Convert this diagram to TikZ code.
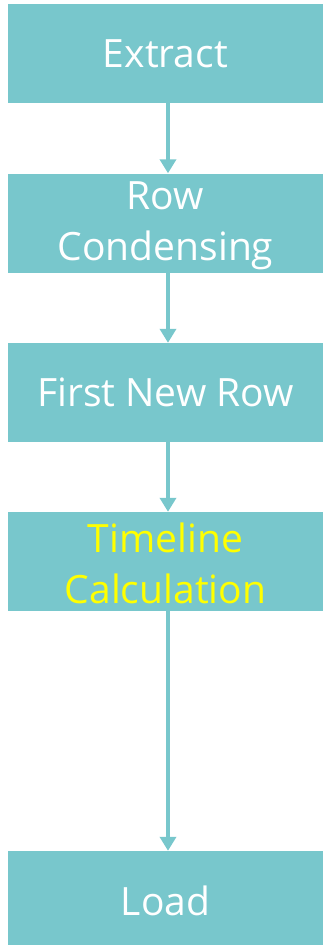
\documentclass[tikz,border=0pt]{standalone}
\usepackage{fontspec}
\setmainfont{Open Sans}
\usetikzlibrary{arrows.meta,calc}
\definecolor{teal}{HTML}{78C7CC}
\definecolor{hilite}{HTML}{FFFF00}
\tikzset{
  stepbox/.style={fill=teal, draw=none, minimum width=315pt, minimum height=99pt,
    inner sep=0pt, align=center, text=white,
    font=\fontsize{39}{51}\selectfont},
  flow/.style={draw=teal, line width=4.2pt,
    -{Triangle[width=16pt,length=14pt]}}
}
\begin{document}
\begin{tikzpicture}[x=1pt,y=1pt]
  \useasboundingbox (0,0) rectangle (323,-945);
  \begin{scope}
    \clip (0,0) rectangle (323,-945);
    \node[stepbox] (extract) at (165.5,-53.5) {Extract};
    \node[stepbox] (condense) at (165.5,-223) {\rule{0pt}{34pt}Row\\Condensing};
    \node[stepbox] (firstrow) at (165.5,-392.5) {First New Row};
    \node[stepbox, text=hilite] (timeline) at (165.5,-561.5) {\rule{0pt}{34pt}Timeline\\Calculation};
    \node[stepbox] (load) at (165.5,-900.5) {Load};
    \coordinate (axis) at (168,0);
    \draw[flow] (extract.south -| axis) -- (condense.north -| axis);
    \draw[flow] (condense.south -| axis) -- (firstrow.north -| axis);
    \draw[flow] (firstrow.south -| axis) -- (timeline.north -| axis);
    \draw[flow] (timeline.south -| axis) -- (load.north -| axis);
  \end{scope}
\end{tikzpicture}
\end{document}
